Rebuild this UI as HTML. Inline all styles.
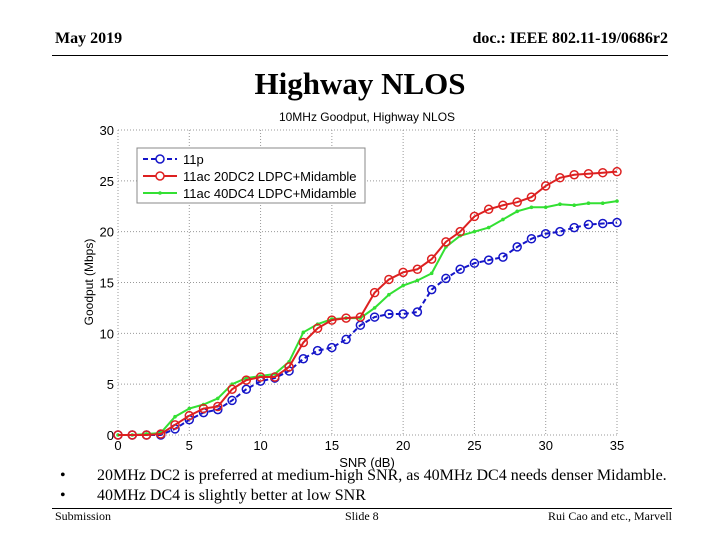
<!DOCTYPE html>
<html><head><meta charset="utf-8"><style>
body{margin:0;width:720px;height:540px;background:#fff;position:relative;overflow:hidden;font-family:"Liberation Serif",serif}
.a{position:absolute;white-space:nowrap}
</style></head><body>
<div class="a" style="left:55px;top:30px;font-size:16px;font-weight:bold">May 2019</div>
<div class="a" style="right:52px;top:30px;font-size:16px;font-weight:bold">doc.: IEEE 802.11-19/0686r2</div>
<div class="a" style="left:52px;top:55px;width:616px;height:1px;background:#000"></div>
<div class="a" style="left:0;width:720px;text-align:center;top:66px;font-size:31px;font-weight:bold">Highway NLOS</div>
<svg class="a" style="left:0;top:0" width="720" height="540" font-family="Liberation Sans, sans-serif">
<g id="grid"></g><g id="series"></g><g id="legend"></g>
<text x="367" y="121" font-size="12" text-anchor="middle">10MHz Goodput, Highway NLOS</text>
<text x="367" y="467" font-size="13" text-anchor="middle">SNR (dB)</text>
<text transform="translate(93,282) rotate(-90)" font-size="12" text-anchor="middle">Goodput (Mbps)</text>
</svg>
<div class="a" style="left:60px;top:467px;font-size:16px">•</div>
<div class="a" style="left:97px;top:467px;font-size:16px">20MHz DC2 is preferred at medium-high SNR, as 40MHz DC4 needs denser Midamble.</div>
<div class="a" style="left:60px;top:487px;font-size:16px">•</div>
<div class="a" style="left:97px;top:487px;font-size:16px">40MHz DC4 is slightly better at low SNR</div>
<div class="a" style="left:52px;top:508px;width:620px;height:1px;background:#000"></div>
<div class="a" style="left:55px;top:509px;font-size:12px">Submission</div>
<div class="a" style="left:345px;top:509px;font-size:12px">Slide 8</div>
<div class="a" style="right:48px;top:509px;font-size:12px">Rui Cao and etc., Marvell</div>
<script>
const snr=[0,1,2,3,4,5,6,7,8,9,10,11,12,13,14,15,16,17,18,19,20,21,22,23,24,25,26,27,28,29,30,31,32,33,34,35];
const s11p=[0,0,0,0,0.6,1.5,2.2,2.5,3.4,4.5,5.3,5.6,6.3,7.5,8.3,8.6,9.4,10.8,11.6,11.9,11.9,12.1,14.3,15.4,16.3,16.9,17.2,17.5,18.5,19.3,19.8,20.0,20.4,20.7,20.8,20.9];
const sDC2=[0,0,0,0.1,1.0,1.9,2.6,2.8,4.5,5.4,5.7,5.7,6.7,9.1,10.5,11.3,11.5,11.6,14.0,15.3,16.0,16.3,17.3,19.0,20.0,21.5,22.2,22.6,22.9,23.4,24.5,25.3,25.6,25.7,25.8,25.9];
const sDC4=[0,0,0.1,0.2,1.8,2.6,3.0,3.6,5.0,5.6,5.8,6.0,7.2,10.1,10.9,11.4,11.5,11.5,12.5,13.8,14.7,15.2,15.9,18.5,19.6,20.0,20.4,21.2,22.0,22.4,22.4,22.7,22.6,22.8,22.8,23.0];
const xTicks=[0,5,10,15,20,25,30,35];
const yTicks=[0,5,10,15,20,25,30];
const labels=["11p","11ac 20DC2 LDPC+Midamble","11ac 40DC4 LDPC+Midamble"];
const NS="http://www.w3.org/2000/svg";
const X=v=>118+v*(617-118)/35, Y=v=>435-v*(435-130)/30;
function mk(t,a,p){const e=document.createElementNS(NS,t);for(const k in a)e.setAttribute(k,a[k]);p.appendChild(e);return e;}
const g=document.getElementById('grid');
xTicks.forEach(t=>{const l=mk('line',{x1:X(t),x2:X(t),y1:130,y2:435,stroke:'#999','stroke-dasharray':'1,2'},g);


const tx=mk('text',{x:X(t),y:450,'font-size':13,'text-anchor':'middle'},g);tx.textContent=t;

});
yTicks.forEach(t=>{const l=mk('line',{x1:118,x2:617,y1:Y(t),y2:Y(t),stroke:'#999','stroke-dasharray':'1,2'},g);


const tx=mk('text',{x:114,y:Y(t)+5,'font-size':13,'text-anchor':'end'},g);tx.textContent=t;

});
const sg=document.getElementById('series');
function series(d,col,dash,circ,name){
const pl=mk('polyline',{points:d.map((v,i)=>X(snr[i])+','+Y(v)).join(' '),fill:'none',stroke:col,'stroke-width':2,'stroke-dasharray':dash},sg);


d.forEach((v,i)=>{const m=circ?mk('circle',{cx:X(snr[i]),cy:Y(v),r:4,fill:'none',stroke:col,'stroke-width':1.5},sg):mk('circle',{cx:X(snr[i]),cy:Y(v),r:1.8,fill:col},sg);

});}
series(s11p,'#1515c8','5,3',true,'series-11p');
series(sDC4,'#33e033','none',false,'series-40dc4');
series(sDC2,'#dd2020','none',true,'series-20dc2');
const lg=document.getElementById('legend');
const box=mk('rect',{x:137,y:148,width:228,height:55,fill:'#fff',stroke:'#888'},lg);


const cols=['#1515c8','#dd2020','#33e033'];
labels.forEach((lb,i)=>{const y=159+i*17;
const l=mk('line',{x1:143,x2:177,y1:y,y2:y,stroke:cols[i],'stroke-width':2,'stroke-dasharray':i==0?'5,3':'none'},lg);


if(i<2)mk('circle',{cx:160,cy:y,r:4,fill:'#fff',stroke:cols[i],'stroke-width':1.5},lg);else mk('circle',{cx:160,cy:y,r:1.8,fill:cols[i]},lg);
const t=mk('text',{x:183,y:y+5,'font-size':13},lg);t.textContent=lb;

});
</script>
</body></html>
